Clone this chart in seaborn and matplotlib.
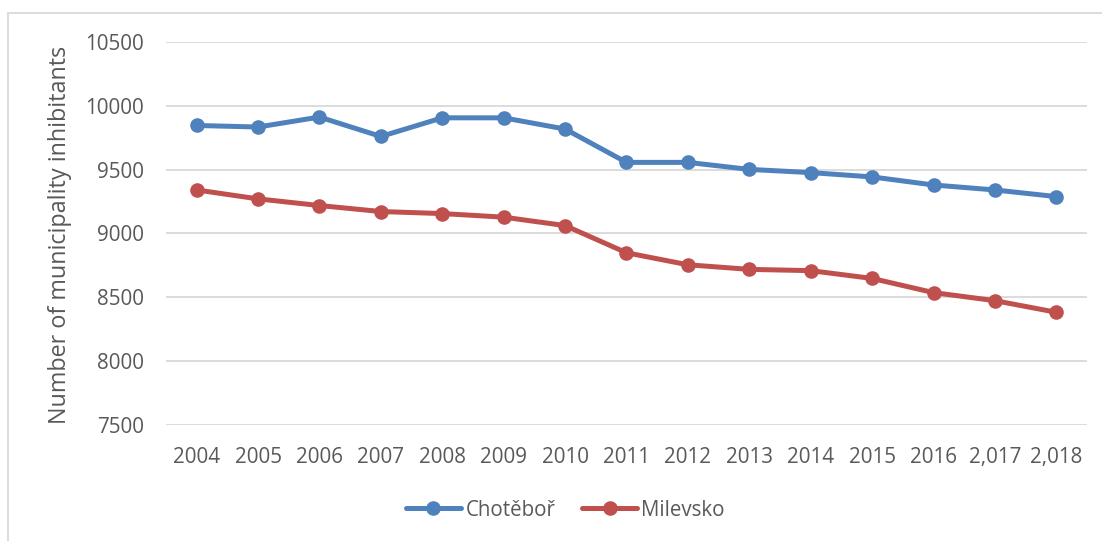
import matplotlib
matplotlib.use("Agg")
import matplotlib.pyplot as plt
import pandas as pd
import seaborn as sns
from matplotlib.patches import Rectangle


years = ["2004", "2005", "2006", "2007", "2008", "2009", "2010", "2011",
         "2012", "2013", "2014", "2015", "2016", "2,017", "2,018"]
chotebor = [9846, 9834, 9912, 9760, 9906, 9906, 9818, 9557,
            9557, 9502, 9477, 9443, 9380, 9341, 9289]
milevsko = [9341, 9271, 9219, 9172, 9156, 9128, 9062, 8849,
            8755, 8719, 8709, 8648, 8537, 8474, 8383]
y_ticks = [7500, 8000, 8500, 9000, 9500, 10000, 10500]

BLUE = "#4F81BD"
RED = "#C0504D"
TEXT = "#595959"
GRID = "#D9D9D9"

sns.set_theme(style="white")
plt.rcParams["font.family"] = ["Open Sans", "DejaVu Sans"]

df = pd.DataFrame({
    "year": years * 2,
    "inhabitants": chotebor + milevsko,
    "town": ["Chotěboř"] * len(years) + ["Milevsko"] * len(years),
})

fig = plt.figure(figsize=(11.02, 5.41), dpi=100)
ax = fig.add_axes([0.1506, 0.2144, 0.8358, 0.708])

sns.lineplot(
    data=df, x="year", y="inhabitants", hue="town",
    palette={"Chotěboř": BLUE, "Milevsko": RED},
    marker="o", markersize=10.5, markeredgewidth=0, linewidth=3.6,
    sort=False, ax=ax, legend=True,
)

ax.set_xlim(-0.5, len(years) - 0.5)
ax.set_ylim(7500, 10500)
ax.set_yticks(y_ticks)
ax.set_yticklabels([str(v) for v in y_ticks])
ax.yaxis.grid(True, color=GRID, linewidth=1.3)
ax.set_axisbelow(True)
for spine in ax.spines.values():
    spine.set_visible(False)
ax.tick_params(axis="both", length=0, labelsize=14.9, labelcolor=TEXT)
ax.tick_params(axis="x", pad=16)
ax.tick_params(axis="y", pad=16)

ax.set_xlabel("")
ax.set_ylabel("Number of municipality inhibitants", fontsize=16.8, color=TEXT)
ax.yaxis.set_label_coords(-0.102, 0.497)

handles, labels = ax.get_legend_handles_labels()
ax.get_legend().remove()
fig.legend(
    handles, labels, loc="center", bbox_to_anchor=(0.513, 0.057), ncol=2,
    frameon=False, fontsize=14.8, labelcolor=TEXT, handlelength=2.7,
    handletextpad=0.2, columnspacing=1.3,
)

# chart area border (partly cut off in the original)
fig.patches.append(Rectangle((8 / 1102, -0.1), 1.2, 0.1 + 1 - 13 / 541,
                             transform=fig.transFigure, fill=False,
                             edgecolor=GRID, linewidth=1.3))

fig.savefig("out.png", dpi=100)
plt.close(fig)
